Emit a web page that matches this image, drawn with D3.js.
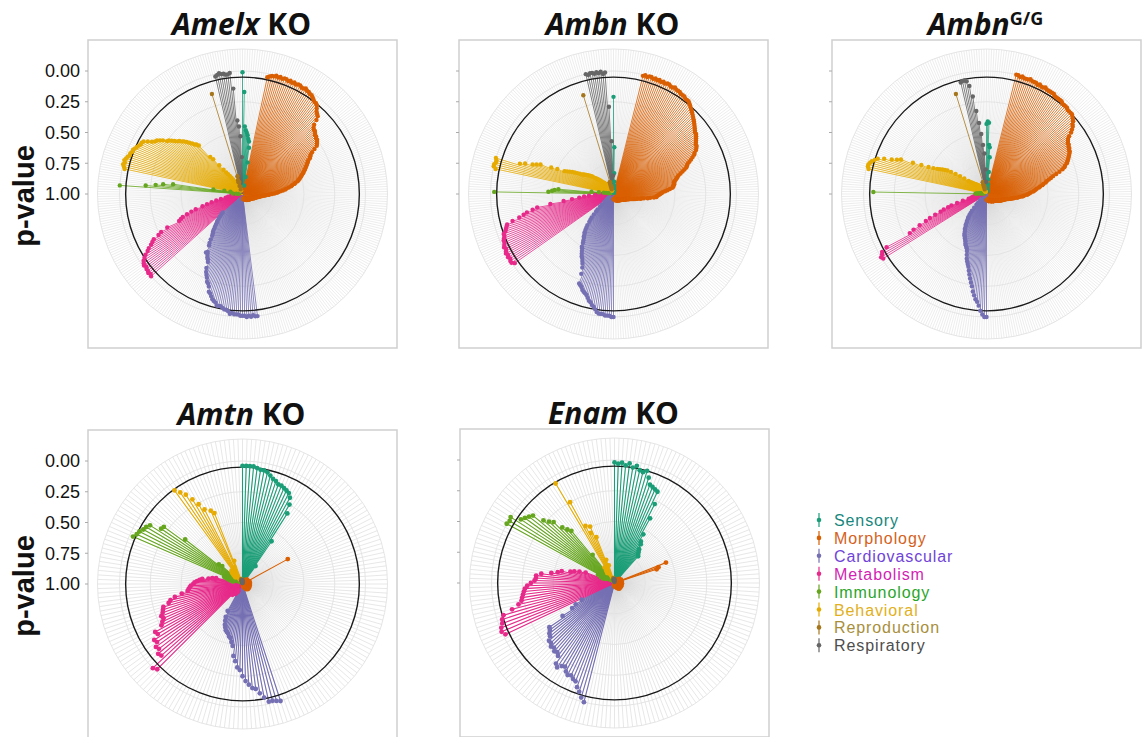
<!DOCTYPE html>
<html>
<head>
<meta charset="utf-8">
<script src="https://cdn.jsdelivr.net/npm/d3@7"></script>
<style>
body { margin: 0; background: #fff; }
</style>
</head>
<body>
<div id="chart"></div>
<script>
// phenotype categories, clockwise from the top of each wheel
var categories = ["Sensory", "Morphology", "Cardiovascular", "Metabolism", "Immunology", "Behavioral", "Reproduction", "Respiratory"];
var catColors = ["#1b9e77", "#d95f02", "#7570b3", "#e7298a", "#66a61e", "#e6ab02", "#a6761d", "#666666"];
var legendColors = ["#17877e", "#d5621b", "#7043d8", "#d21fb4", "#2aa52a", "#e2b01c", "#a88f3c", "#4d4d4d"];
var pTicks = [0, 0.25, 0.5, 0.75, 1];
var pTickLabels = ["0.00", "0.25", "0.50", "0.75", "1.00"];
var sigLevel = 0.05;

// ---- Amelx KO : p-values per category, clockwise ----
var amelxSensory = [0.01,0.17,0.45,0.48,0.5,0.52,0.55,0.57,0.62,0.74,0.86,0.93];
var amelxMorphology = [
 0.03,0.02,0.01,0.01,0,0.01,0,0.01,0,0,
 0.01,0,0.01,0,0.01,0,0,0.01,0.01,0,
 0.01,0.01,0.02,0.02,0.03,0.04,0.05,0.05,0.06,0.08,
 0.1,0.11,0.12,0.15,0.19,0.21,0.22,0.22,0.23,0.24,
 0.24,0.25,0.25,0.26,0.27,0.28,0.31,0.34,0.36,0.37,
 0.38,0.4,0.41,0.42,0.43,0.44,0.45,0.46,0.47,0.48,
 0.49,0.5,0.51,0.52,0.53,0.54,0.56,0.57,0.59,0.6,
 0.62,0.64,0.65,0.67,0.69,0.71,0.72,0.74,0.76,0.78,
 0.79,0.81,0.82,0.83,0.84,0.85,0.86,0.86,0.87,0.87,
 0.88,0.88,0.89,0.89,0.89,0.9,0.9,0.9,0.9,0.91,
 0.91,0.91,0.91,0.92,0.92,0.92,0.92,0.92,0.92,0.93,
 0.93,0.93,0.93,0.93,0.93,0.93,0.93,0.93,0.93,0.94,
 0.94,0.94,0.94,0.94,0.94,0.94,0.94,0.94,0.94,0.94,
 0.94,0.94,0.94,0.95,0.95,0.95,0.95,0.95,0.95,0.95,
 0.95,0.95,0.95,0.95,0.95,0.95,0.95,0.96,0.96,0.96,
 0.96,0.96,0.96,0.96,0.96,0.96,0.96,0.96,0.96,0.96,
 0.96];
var amelxCardio = [
 0,0,0.01,0,0.01,0,0.01,0.01,0.01,0.02,
 0.02,0.02,0.03,0.02,0.04,0.05,0.05,0.06,0.07,0.07,
 0.07,0.09,0.1,0.11,0.13,0.15,0.16,0.2,0.22,0.23,
 0.26,0.28,0.3,0.33,0.38,0.4,0.41,0.43,0.45,0.44,
 0.5,0.52,0.55,0.58,0.6,0.61,0.63,0.65,0.67,0.69,
 0.7,0.72,0.74,0.76,0.78];
var amelxMetab = [
 0,0.01,0,0.01,0.01,0.02,0.01,0.02,0.03,0.05,
 0.07,0.1,0.12,0.15,0.17,0.19,0.24,0.27,0.33,0.44,
 0.46,0.48,0.52,0.56,0.6,0.66,0.7,0.74,0.78,0.82,
 0.86,0.88,0.9,0.91,0.92,0.93,0.94,0.94,0.95,0.95,
 0.96,0.96,0.97];
var amelxImmuno = [0.97,0.95,0.92,0,0.21,0.29,0.35,0.43,0.76,0.85,0.9];
var amelxBehav = [
 0.02,0.01,0,0.01,0,0.01,0.02,0.03,0.03,0.04,
 0.04,0.05,0.06,0.07,0.08,0.08,0.09,0.12,0.15,0.17,
 0.18,0.2,0.22,0.25,0.26,0.28,0.3,0.32,0.33,0.35,
 0.36,0.38,0.4,0.42,0.44,0.45,0.47,0.6,0.63,0.7,
 0.75,0.78,0.8,0.82,0.84,0.86,0.88,0.89,0.9,0.91,
 0.92,0.93,0.94,0.95,0.96,0.96,0.97];
var amelxRepro = [0.96,0.93,0.9,0.88,0.15,0.85,0.9,0.94];
var amelxResp = [0.02,0.01,0,0.01,0.01,0.02,0.02,0.01,0.14,0.4,0.45,0.53,0.7];

// ---- Ambn KO ----
var ambnSensory = [0.21,0.62,0.83,0.9,0.93,0.95,0.96,0.97,0.97,0.98,0.98,0.98,0.99,0.99];
var ambnMorphology = [
 0.01,0,0.01,0,0,0.01,0,0.01,0,0.01,
 0,0.01,0,0,0.01,0.01,0,0.01,0.01,0.01,
 0.02,0.02,0.02,0.03,0.03,0.03,0.04,0.05,0.06,0.07,
 0.08,0.09,0.1,0.11,0.12,0.13,0.14,0.15,0.16,0.17,
 0.17,0.18,0.19,0.2,0.21,0.22,0.22,0.23,0.24,0.26,
 0.27,0.29,0.31,0.33,0.35,0.36,0.37,0.39,0.41,0.43,
 0.45,0.46,0.47,0.48,0.49,0.5,0.5,0.5,0.51,0.51,
 0.52,0.54,0.56,0.58,0.6,0.61,0.62,0.63,0.64,0.65,
 0.65,0.67,0.7,0.72,0.75,0.77,0.78,0.8,0.81,0.82,
 0.83,0.84,0.85,0.86,0.87,0.87,0.88,0.88,0.89,0.89,
 0.89,0.9,0.9,0.9,0.9,0.91,0.91,0.91,0.91,0.92,
 0.92,0.92,0.92,0.92,0.92,0.93,0.93,0.93,0.93,0.93,
 0.93,0.93,0.93,0.93,0.93,0.94,0.94,0.94,0.94,0.94,
 0.94,0.94,0.94,0.94,0.94,0.94,0.94,0.94,0.94,0.94,
 0.95,0.95,0.95,0.95,0.95,0.95,0.95,0.95,0.95,0.95,
 0.95,0.95,0.95,0.95,0.95,0.96,0.96,0.96,0.96,0.96,
 0.96,0.96,0.96,0.96,0.96,0.96];
var ambnCardio = [
 0,0,0.01,0.01,0.01,0.02,0.02,0.02,0.03,0.05,
 0.07,0.08,0.1,0.11,0.13,0.15,0.16,0.17,0.18,0.2,
 0.21,0.22,0.3,0.35,0.38,0.4,0.42,0.43,0.45,0.47,
 0.49,0.5,0.53,0.55,0.57,0.58,0.6,0.61,0.63,0.65,
 0.67,0.7,0.72,0.74,0.77,0.8,0.82,0.85,0.87,0.9,
 0.92,0.93,0.94,0.95,0.96];
var ambnMetab = [
 0.02,0,0,0.01,0,0.01,0,0.01,0.02,0.01,
 0.02,0.03,0.03,0.04,0.05,0.05,0.07,0.08,0.09,0.1,
 0.15,0.21,0.25,0.28,0.33,0.37,0.48,0.59,0.66,0.72,
 0.76,0.8,0.85,0.88,0.9,0.93];
var ambnImmuno = [0.03,0.47,0.5,0.52,0.55,0.82,0.88,0.92,0.94,0.96,0.97];
var ambnBehav = [
 0.02,0,0,0.01,0.01,0,0.2,0.24,0.3,0.33,
 0.36,0.45,0.5,0.56,0.58,0.6,0.62,0.64,0.66,0.68,
 0.7,0.71,0.72,0.73,0.74,0.75,0.76,0.77,0.78,0.8,
 0.81,0.82,0.83,0.84,0.85,0.86,0.87,0.88,0.88,0.89,
 0.9,0.9,0.91,0.91,0.92,0.92,0.93,0.93,0.94,0.94,
 0.94,0.95,0.95,0.96,0.96,0.97,0.97];
var ambnRepro = [0.96,0.94,0.92,0.9,0.16,0.9,0.93,0.95];
var ambnResp = [0,0.01,0,0,0.01,0,0.01,0,0.02,0.01,0.29,0.57,0.85];

// ---- Ambn G/G ----
var ambngSensory = [0.43,0.41,0.42,0.6,0.62,0.7,0.82,0.88,0.92,0.94,0.96,0.97,0.98,0.98];
var ambngMorphology = [
 0,0,0.01,0,0.01,0.01,0.01,0,0.01,0.01,
 0.01,0.02,0.01,0.02,0.02,0.01,0.02,0.02,0.02,0.02,
 0.02,0.03,0.03,0.03,0.03,0.03,0.04,0.04,0.04,0.04,
 0.05,0.05,0.05,0.05,0.06,0.07,0.08,0.1,0.11,0.13,
 0.15,0.18,0.2,0.21,0.22,0.22,0.23,0.23,0.24,0.24,
 0.25,0.26,0.27,0.28,0.29,0.3,0.32,0.33,0.35,0.38,
 0.41,0.44,0.46,0.48,0.5,0.51,0.53,0.54,0.56,0.57,
 0.59,0.6,0.61,0.62,0.64,0.65,0.66,0.67,0.69,0.7,
 0.71,0.73,0.74,0.75,0.77,0.78,0.79,0.8,0.81,0.82,
 0.83,0.84,0.84,0.85,0.85,0.86,0.86,0.86,0.87,0.87,
 0.87,0.88,0.88,0.88,0.89,0.89,0.89,0.9,0.9,0.9,
 0.91,0.91,0.91,0.91,0.91,0.92,0.92,0.92,0.92,0.92,
 0.92,0.92,0.92,0.92,0.92,0.93,0.93,0.93,0.93,0.93,
 0.93,0.93,0.93,0.93,0.93,0.94,0.94,0.94,0.94,0.94,
 0.94,0.94,0.94,0.94,0.94,0.94,0.94,0.94,0.94,0.94,
 0.95,0.95,0.95,0.95,0.95,0.95,0.95,0.95,0.95,0.95,
 0.95,0.95,0.96,0.96,0.96,0.96];
var ambngCardio = [
 0,0,0.02,0.05,0.09,0.12,0.14,0.17,0.2,0.24,
 0.27,0.3,0.33,0.36,0.39,0.41,0.43,0.45,0.48,0.51,
 0.53,0.54,0.55,0.56,0.58,0.59,0.6,0.61,0.62,0.63,
 0.65,0.66,0.67,0.69,0.7,0.72,0.73,0.75,0.76,0.78,
 0.8,0.82,0.85,0.88,0.9,0.92,0.94,0.95,0.96,0.97,
 0.97,0.98,0.98,0.98,0.99,0.99,0.99,0.99];
var ambngMetab = [
 0.01,0,0.02,0.03,0.08,0.3,0.34,0.4,0.46,0.5,
 0.55,0.6,0.63,0.67,0.7,0.75,0.8,0.85,0.87,0.88,
 0.89,0.9,0.91,0.92,0.93,0.94,0.95,0.95,0.96,0.96,
 0.97,0.97,0.98];
var ambngImmuno = [0.08,0.91,0.92,0.93,0.94,0.95,0.95,0.96,0.97,0.97,0.98];
var ambngBehav = [
 0.02,0.01,0.01,0.02,0.03,0.05,0.07,0.12,0.18,0.22,
 0.25,0.35,0.42,0.48,0.52,0.55,0.57,0.59,0.61,0.63,
 0.66,0.7,0.74,0.78,0.82,0.84,0.85,0.86,0.87,0.88,
 0.88,0.89,0.89,0.9,0.9,0.91,0.91,0.92,0.92,0.93,
 0.93,0.93,0.94,0.94,0.94,0.95,0.95,0.95,0.96,0.96,
 0.96,0.97,0.97,0.97,0.98,0.98,0.98];
var ambngRepro = [0.96,0.94,0.92,0.9,0.15,0.9,0.93,0.95];
var ambngResp = [0.07,0.06,0.06,0.07,0.11,0.2,0.32,0.42,0.51,0.6,0.67,0.8,0.9];

// ---- Amtn KO ----
var amtnSensory = [0.04,0.04,0.04,0.04,0.05,0.06,0.06,0.07,0.09,0.11,0.12,0.14,0.14,0.15,0.16,0.17,0.2,0.25,0.32,0.58,0.82];
var amtnMorphology = [
 0.97,0.96,0.98,0.95,0.97,0.96,0.98,0.97,0.96,0.95,
 0.97,0.96,0.95,0.58,0.96,0.95,0.97,0.96,0.94,0.95,
 0.96,0.97,0.95,0.94,0.96,0.95,0.97,0.96,0.95,0.94,
 0.96,0.95,0.97,0.96,0.95,0.96,0.94,0.95,0.97,0.96,
 0.95,0.96,0.94,0.95,0.96,0.97,0.95,0.96,0.94,0.95,
 0.96,0.97,0.96,0.95,0.94,0.96,0.95,0.97,0.96,0.95,
 0.96,0.97,0.98,0.97,0.98,0.97,0.98,0.99,0.98];
var amtnCardio = [0,0.01,0.02,0.02,0.06,0.1,0.14,0.15,0.18,0.21,0.25,0.3,0.32,0.37,0.41,0.49,0.52,0.55,0.56,0.58,0.59,0.6,0.62,0.64,0.67,0.7,0.75];
var amtnMetab = [
 0.93,0.92,0.94,0.9,0.91,0.93,0.9,0.88,0.02,0,
 0.12,0.11,0.14,0.13,0.16,0.15,0.2,0.19,0.26,0.28,
 0.3,0.29,0.31,0.32,0.33,0.38,0.4,0.44,0.5,0.55,
 0.56,0.57,0.58,0.6,0.61,0.63,0.65,0.67,0.72,0.75,
 0.78];
var amtnImmuno = [0.92,0.9,0.88,0.86,0.84,0.03,0.05,0.06,0.08,0.09,0.11,0.2,0.21,0.41,0.75,0.78];
var amtnBehav = [0.92,0.9,0.88,0.87,0.86,0.9,0.06,0.1,0.14,0.2,0.26,0.32,0.85,0.35,0.38,0.8];
var amtnRepro = [0.97,0.98,0.96,0.99];
var amtnResp = [0.98,0.97,0.99,0.98,0.99,0.97];

// ---- Enam KO ----
var enamSensory = [0.02,0.03,0.02,0.04,0.02,0.05,0.03,0.06,0.07,0.05,0.1,0.15,0.16,0.17,0.18,0.28,0.4,0.54,0.6,0.62,0.66,0.68,0.7,0.71];
var enamMorphology = [
 0.96,0.97,0.95,0.96,0.98,0.97,0.95,0.96,0.97,0.95,
 0.96,0.94,0.95,0.96,0.55,0.62,0.64,0.95,0.96,0.97,
 0.95,0.94,0.96,0.95,0.97,0.96,0.95,0.94,0.96,0.95,
 0.97,0.96,0.95,0.94,0.96,0.95,0.96,0.97,0.95,0.96,
 0.94,0.95,0.96,0.97,0.95,0.96,0.95,0.94,0.96,0.95,
 0.97,0.96,0.95,0.96,0.94,0.95,0.96,0.97,0.96,0.95,
 0.96,0.97,0.98,0.96,0.97,0.98,0.97,0.98,0.97,0.98,
 0.99,0.98,0.97,0.98,0.99,0.98,0.99,0.98,0.99,0.98,
 0.99,0.99,0.98,0.99];
var enamCardio = [0,0.03,0.07,0.1,0.14,0.15,0.17,0.16,0.18,0.21,0.2,0.17,0.19,0.25,0.27,0.26,0.28,0.27,0.29,0.29,0.32,0.33,0.35,0.36,0.5,0.6,0.64,0.7];
var enamMetab = [0.02,0,0.01,0.03,0.04,0.06,0.14,0.2,0.23,0.24,0.25,0.26,0.27,0.29,0.32,0.35,0.36,0.36,0.4,0.48,0.53,0.56,0.63,0.66,0.7,0.75];
var enamImmuno = [0.9,0.88,0.92,0.85,0,0.01,0,0.08,0.1,0.12,0.14,0.23,0.27,0.3,0.38,0.42,0.45,0.71];
var enamBehav = [0.9,0.88,0.85,0.06,0.25,0.48,0.55,0.5,0.6,0.8,0.85];
var enamRepro = [0.97,0.98,0.96,0.99];
var enamResp = [0.98,0.97,0.99,0.98,0.97];

var panels = [
  {gene: "Amelx", tag: " KO", sup: null, left: 88, top: 40, axisLabels: true,
   data: [amelxSensory, amelxMorphology, amelxCardio, amelxMetab, amelxImmuno, amelxBehav, amelxRepro, amelxResp]},
  {gene: "Ambn", tag: " KO", sup: null, left: 459, top: 40, axisLabels: false,
   data: [ambnSensory, ambnMorphology, ambnCardio, ambnMetab, ambnImmuno, ambnBehav, ambnRepro, ambnResp]},
  {gene: "Ambn", tag: "", sup: "G/G", left: 832, top: 40, axisLabels: false,
   data: [ambngSensory, ambngMorphology, ambngCardio, ambngMetab, ambngImmuno, ambngBehav, ambngRepro, ambngResp]},
  {gene: "Amtn", tag: " KO", sup: null, left: 88, top: 430, axisLabels: true,
   data: [amtnSensory, amtnMorphology, amtnCardio, amtnMetab, amtnImmuno, amtnBehav, amtnRepro, amtnResp]},
  {gene: "Enam", tag: " KO", sup: null, left: 460, top: 429, axisLabels: false,
   data: [enamSensory, enamMorphology, enamCardio, enamMetab, enamImmuno, enamBehav, enamRepro, enamResp]}
];

var width = 1146, height = 737;
var boxW = 309, boxH = 308;
var R0 = 123, Rout = 145;

var svg = d3.select("#chart").append("svg")
  .attr("width", width)
  .attr("height", height);

var rad = d3.scaleLinear().domain([1, 0]).range([0, R0]);

panels.forEach(function(p) {
  var cx = p.left + boxW / 2, cy = p.top + boxH / 2;

  // flatten to one list of phenotype tests
  var items = [];
  p.data.forEach(function(arr, c) {
    arr.forEach(function(v) { items.push({cat: c, p: v}); });
  });
  var N = items.length;
  var ang = d3.scaleLinear().domain([0, N]).range([0, 2 * Math.PI]);
  var dense = N > 300;

  // frame
  svg.append("rect")
    .attr("x", p.left).attr("y", p.top)
    .attr("width", boxW).attr("height", boxH)
    .attr("fill", "none")
    .attr("stroke", "#cfcfcf")
    .attr("stroke-width", 1.5);

  // little ticks on the frame
  svg.selectAll(null).data(pTicks).enter().append("line")
    .attr("x1", p.left - 3).attr("x2", p.left)
    .attr("y1", function(d) { return cy - rad(d); })
    .attr("y2", function(d) { return cy - rad(d); })
    .attr("stroke", "#aaa").attr("stroke-width", 1);

  if (p.axisLabels) {
    svg.selectAll(null).data(pTicks).enter().append("text")
      .attr("x", p.left - 8)
      .attr("y", function(d) { return cy - rad(d); })
      .attr("dy", "0.35em")
      .attr("text-anchor", "end")
      .style("font-family", "'Liberation Sans', Arial, sans-serif")
      .style("font-size", "18px")
      .style("fill", "#111")
      .text(function(d, i) { return pTickLabels[i]; });

    svg.append("text")
      .attr("transform", "translate(" + 34 + "," + (cy + 2) + ")rotate(-90)")
      .attr("text-anchor", "middle")
      .style("font-family", "'Liberation Sans', Arial, sans-serif")
      .style("font-weight", "bold")
      .style("font-size", "29px")
      .style("fill", "#111")
      .text("p-value");
  }

  // title
  var title = svg.append("text")
    .attr("x", cx - 1)
    .attr("y", p.top - 5)
    .attr("text-anchor", "middle")
    .style("font-family", "'Open Sans', sans-serif")
    .style("font-weight", "bold")
    .style("font-size", "30px")
    .style("fill", "#111");
  title.append("tspan").style("font-style", "italic").text(p.gene);
  if (p.tag) title.append("tspan").text(p.tag);
  if (p.sup) title.append("tspan").attr("dy", -10).style("font-size", "18px").text(p.sup);

  var g = svg.append("g").attr("transform", "translate(" + cx + "," + cy + ")");

  // spokes, one per phenotype
  g.selectAll("line.spoke").data(d3.range(N)).enter().append("line")
    .attr("class", "spoke")
    .attr("x1", 0).attr("y1", 0)
    .attr("x2", function(i) { return Rout * Math.sin(ang(i)); })
    .attr("y2", function(i) { return -Rout * Math.cos(ang(i)); })
    .attr("stroke", "#d6d6d6")
    .attr("stroke-width", dense ? 0.45 : 0.6);

  // rings
  g.selectAll("circle.ring").data(pTicks.slice(0, 4)).enter().append("circle")
    .attr("class", "ring")
    .attr("r", function(d) { return rad(d); })
    .attr("fill", "none").attr("stroke", "#e2e2e2").attr("stroke-width", 0.9);
  g.append("circle").attr("r", Rout)
    .attr("fill", "none").attr("stroke", "#e2e2e2").attr("stroke-width", 0.9);

  // stems
  categories.forEach(function(cat, c) {
    var sub = items.map(function(d, i) { return {i: i, p: d.p, cat: d.cat}; })
      .filter(function(d) { return d.cat === c; });
    g.selectAll(null).data(sub).enter().append("line")
      .attr("x1", 0).attr("y1", 0)
      .attr("x2", function(d) { return rad(d.p) * Math.sin(ang(d.i)); })
      .attr("y2", function(d) { return -rad(d.p) * Math.cos(ang(d.i)); })
      .attr("stroke", catColors[c])
      .attr("stroke-width", dense ? 0.8 : 1.1);
  });

  // significance circle p = 0.05
  g.append("circle").attr("r", rad(sigLevel))
    .attr("fill", "none").attr("stroke", "#1a1a1a").attr("stroke-width", 1.4);

  // heads
  categories.forEach(function(cat, c) {
    var sub = items.map(function(d, i) { return {i: i, p: d.p, cat: d.cat}; })
      .filter(function(d) { return d.cat === c; });
    g.selectAll(null).data(sub).enter().append("circle")
      .attr("cx", function(d) { return rad(d.p) * Math.sin(ang(d.i)); })
      .attr("cy", function(d) { return -rad(d.p) * Math.cos(ang(d.i)); })
      .attr("r", dense ? 2.2 : 2.4)
      .attr("fill", catColors[c]);
  });
});

// legend
var legend = svg.append("g").attr("transform", "translate(819,520)");
var rows = legend.selectAll("g").data(categories).enter().append("g")
  .attr("transform", function(d, i) { return "translate(0," + (i * 17.9) + ")"; });
rows.append("line")
  .attr("x1", 0).attr("x2", 0).attr("y1", -7).attr("y2", 7)
  .attr("stroke", function(d, i) { return catColors[i]; })
  .attr("stroke-width", 1.2);
rows.append("circle")
  .attr("r", 2.3)
  .attr("fill", function(d, i) { return catColors[i]; });
rows.append("text")
  .attr("x", 15)
  .attr("y", 6)
  .style("font-family", "'Liberation Sans', Arial, sans-serif")
  .style("font-size", "16px")
  .style("letter-spacing", "0.9px")
  .style("fill", function(d, i) { return legendColors[i]; })
  .text(function(d) { return d; });
</script>
</body>
</html>
